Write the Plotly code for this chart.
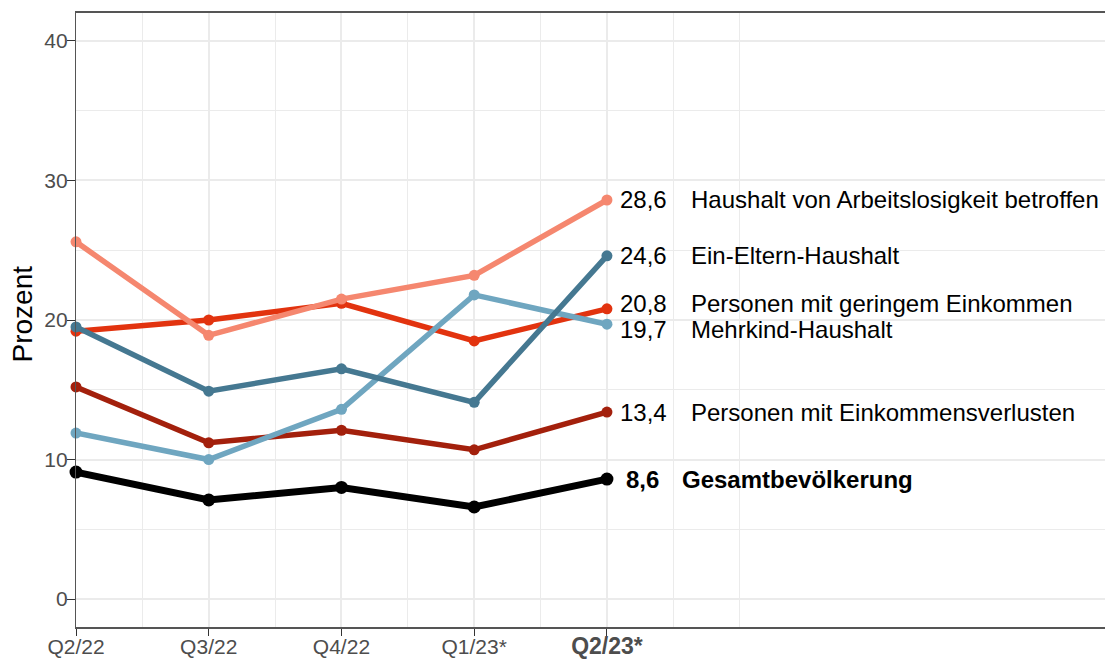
import plotly.graph_objects as go

quarters = ["Q2/22", "Q3/22", "Q4/22", "Q1/23*", "Q2/23*"]
tick_labels = ["Q2/22", "Q3/22", "Q4/22", "Q1/23*",
               "<b><span style='font-size:23px'>Q2/23*</span></b>"]

series_names = [
    "Personen mit Einkommensverlusten",
    "Personen mit geringem Einkommen",
    "Haushalt von Arbeitslosigkeit betroffen",
    "Mehrkind-Haushalt",
    "Ein-Eltern-Haushalt",
    "Gesamtbevölkerung",
]
einkommensverluste = [15.2, 11.2, 12.1, 10.7, 13.4]
geringes_einkommen = [19.2, 20.0, 21.2, 18.5, 20.8]
arbeitslosigkeit = [25.6, 18.9, 21.5, 23.2, 28.6]
mehrkind = [11.9, 10.0, 13.6, 21.8, 19.7]
ein_eltern = [19.5, 14.9, 16.5, 14.1, 24.6]
gesamt = [9.1, 7.1, 8.0, 6.6, 8.6]
values = [einkommensverluste, geringes_einkommen, arbeitslosigkeit, mehrkind, ein_eltern, gesamt]

colors = ["#A3200C", "#E2330F", "#F5876F", "#6FA6C0", "#457891", "#000000"]
widths = [5.5, 5.5, 5.5, 5.5, 5.5, 7]
msizes = [11, 11, 11, 11, 11, 13]
bold = [False, False, False, False, False, True]
# vertical nudges of the end labels (in data units) to avoid overlaps
label_nudge = [0.0, 0.4, 0.0, -0.35, 0.0, 0.0]

x_idx = list(range(len(quarters)))
FONT = "Liberation Sans, Arial, sans-serif"

fig = go.Figure()
for name, vals, col, w, ms in zip(series_names, values, colors, widths, msizes):
    fig.add_trace(go.Scatter(
        x=x_idx, y=vals, mode="lines+markers", name=name,
        line=dict(color=col, width=w),
        marker=dict(color=col, size=ms),
        showlegend=False, cliponaxis=False,
    ))

annotations = []
last = x_idx[-1]
for name, vals, b, nud in zip(series_names, values, bold, label_nudge):
    v = vals[-1]
    num = f"{v:.1f}".replace(".", ",")
    yv = v + nud
    if b:
        annotations.append(dict(x=last + 0.128, y=yv, xref="x", yref="y", text=f"<b>{num}</b>",
                                showarrow=False, xanchor="left", yanchor="middle",
                                font=dict(family=FONT, size=24, color="black")))
        annotations.append(dict(x=last + 0.55, y=yv, xref="x", yref="y", text=f"<b>{name}</b>",
                                showarrow=False, xanchor="left", yanchor="middle",
                                font=dict(family=FONT, size=24, color="black")))
    else:
        annotations.append(dict(x=last + 0.087, y=yv, xref="x", yref="y", text=num,
                                showarrow=False, xanchor="left", yanchor="middle",
                                font=dict(family=FONT, size=24, color="black")))
        annotations.append(dict(x=last + 0.621, y=yv, xref="x", yref="y", text=name,
                                showarrow=False, xanchor="left", yanchor="middle",
                                font=dict(family=FONT, size=24, color="black")))

annotations.append(dict(x=-0.0522, y=0.509, xref="paper", yref="paper", text="Prozent",
                        textangle=-90, showarrow=False, xanchor="center", yanchor="middle",
                        font=dict(family=FONT, size=28, color="black")))

grid = "#EBEBEB"
# the page body adds an 8px offset, so the figure is 8px smaller and margins shifted
fig.update_layout(
    width=1105, height=652,
    margin=dict(l=68, r=3, t=5, b=32.5, autoexpand=False),
    paper_bgcolor="white", plot_bgcolor="white",
    font=dict(family=FONT),
    annotations=annotations,
)
fig.update_xaxes(
    range=[0, 7.79], tickvals=x_idx, ticktext=tick_labels,
    ticks="outside", ticklen=7, tickwidth=1.2, tickcolor="#333333",
    tickfont=dict(family=FONT, size=21, color="#4D4D4D"),
    ticklabelstandoff=-7,
    showgrid=True, gridcolor=grid, gridwidth=1.6,
    minor=dict(tickvals=[0.5, 1.5, 2.5, 3.5, 4.5, 5], showgrid=True, gridcolor=grid, gridwidth=1.1, ticks=""),
    showline=True, linecolor="#555555", linewidth=2, mirror=True,
    zeroline=False, automargin=False,
)
fig.update_yaxes(
    range=[-2, 42], tickvals=[0, 10, 20, 30, 40],
    ticks="outside", ticklen=8, tickwidth=1.2, tickcolor="#333333",
    tickfont=dict(family=FONT, size=21, color="#4D4D4D"),
    ticklabelstandoff=-5,
    showgrid=True, gridcolor=grid, gridwidth=1.6,
    minor=dict(tickvals=[5, 15, 25, 35], showgrid=True, gridcolor=grid, gridwidth=1.1, ticks=""),
    showline=True, linecolor="#555555", linewidth=1.2, mirror=True,
    zeroline=False, automargin=False,
)

fig.write_html("out.html")
